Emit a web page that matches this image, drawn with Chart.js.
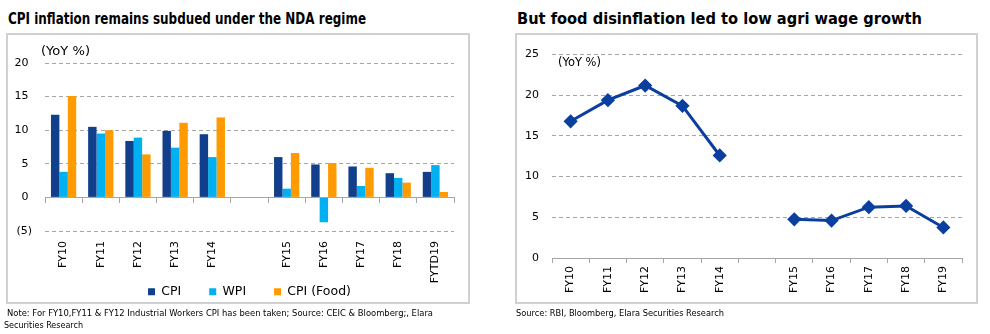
<!DOCTYPE html>
<html>
<head>
<meta charset="utf-8">
<script src="https://cdn.jsdelivr.net/npm/chart.js@4.4.0/dist/chart.umd.min.js"></script>
<style>
  html, body { margin:0; padding:0; background:#fff; }
  body { width:990px; height:334px; position:relative; overflow:hidden; font-family:"DejaVu Sans", sans-serif; color:#000; }
  .t { position:absolute; white-space:nowrap; line-height:1; transform-origin:0 0; }
  .title { font-weight:bold; font-size:16px; }
  .note { font-size:9.5px; }
  .unit { font-size:12px; }
  .box { position:absolute; border:2px solid #d0d0d0; box-sizing:border-box; }
  canvas { position:absolute; }
</style>
</head>
<body>
<div class="t title" data-w="358" style="left:8px;top:10.5px">CPI inflation remains subdued under the NDA regime</div>
<div class="t title" data-w="405" style="left:517px;top:10.5px">But food disinflation led to low agri wage growth</div>

<div class="box" style="left:6px;top:33px;width:464px;height:271px"></div>
<div class="box" style="left:515px;top:33px;width:463px;height:271px"></div>

<div style="position:absolute;left:8px;top:35px;width:460px;height:275px"><canvas id="cpiChart"></canvas></div>
<div style="position:absolute;left:517px;top:35px;width:458px;height:267px"><canvas id="wageChart"></canvas></div>

<div class="t unit" data-w="49" style="left:41px;top:45px">(YoY %)</div>
<div class="t unit" data-w="43" style="left:558px;top:56px">(YoY %)</div>

<div class="t note" data-w="426" style="left:7px;top:308px">Note: For FY10,FY11 &amp; FY12 Industrial Workers CPI has been taken; Source: CEIC &amp; Bloomberg;, Elara</div>
<div class="t note" data-w="79" style="left:4px;top:320px">Securities Research</div>
<div class="t note" data-w="208" style="left:516px;top:308px">Source: RBI, Bloomberg, Elara Securities Research</div>

<script>
// left chart data
const cpiCats = ['FY10','FY11','FY12','FY13','FY14','','FY15','FY16','FY17','FY18','FYTD19'];
const cpi     = [12.3, 10.5, 8.4, 9.9, 9.4, null, 6.0, 4.9, 4.6, 3.6, 3.8];
const wpi     = [3.8, 9.5, 8.9, 7.4, 6.0, null, 1.3, -3.7, 1.7, 2.9, 4.8];
const cpiFood = [15.1, 10.0, 6.4, 11.1, 11.9, null, 6.6, 5.1, 4.4, 2.2, 0.8];

// right chart data
const wageCats = ['FY10','FY11','FY12','FY13','FY14','','FY15','FY16','FY17','FY18','FY19'];
const agriWage = [16.8, 19.4, 21.2, 18.7, 12.6, null, 4.75, 4.6, 6.25, 6.4, 3.75];

const FONT = '"DejaVu Sans", sans-serif';
const gridGrey = '#a6a6a6';
const dashFor = c => (c.tick && c.tick.value === 0) ? [] : [4, 3];

function fixWidth(w){ return s => { s.width = w; }; }
function fixHeight(h){ return s => { s.height = h; }; }

new Chart(document.getElementById('cpiChart'), {
  type: 'bar',
  data: {
    labels: cpiCats,
    datasets: [
      { label:'CPI',        data:cpi,     backgroundColor:'#123f8c', borderWidth:0 },
      { label:'WPI',        data:wpi,     backgroundColor:'#00b0f0', borderWidth:0 },
      { label:'CPI (Food)', data:cpiFood, backgroundColor:'#ff9a00', borderWidth:0 }
    ]
  },
  options: {
    responsive:true, maintainAspectRatio:false, animation:false,
    layout:{ padding:{ top:28, left:0, right:14, bottom:2 } },
    datasets:{ bar:{ categoryPercentage:0.68, barPercentage:1.0 } },
    scales: {
      // category labels hang below the (5) line, like Excel's "low" axis labels
      x: {
        position:{ y:-5 },
        grid:{ display:false, drawTicks:false }, border:{ display:false },
        ticks:{ autoSkip:false, minRotation:90, maxRotation:90, padding:10, color:'#000', font:{ family:FONT, size:11 } }
      },
      // axis line with tick marks at zero
      x2: {
        type:'category', axis:'x', labels:cpiCats, offset:true, position:{ y:0 },
        grid:{ offset:true, drawOnChartArea:false, drawTicks:true, tickLength:5, color:gridGrey },
        border:{ display:true, color:gridGrey },
        ticks:{ display:false }
      },
      // keeps room for the labels above the legend
      xs: {
        type:'category', axis:'x', labels:cpiCats, position:'bottom',
        grid:{ display:false, drawTicks:false }, border:{ display:false },
        ticks:{ display:false },
        afterFit: fixHeight(26.5)
      },
      y: {
        min:-5, max:20,
        grid:{ color:gridGrey, drawTicks:false },
        border:{ display:false, dash:dashFor },
        ticks:{ stepSize:5, padding:13, color:'#000', font:{ family:FONT, size:11 },
          callback: v => v < 0 ? '(' + (-v) + ')' : v + ' ' },
        afterFit: fixWidth(37)
      }
    },
    plugins: {
      legend:{ position:'bottom', fullSize:false,
        labels:{ boxWidth:7, boxHeight:7, padding:28, color:'#000', font:{ family:FONT, size:12.5 } } },
      tooltip:{ enabled:false }
    }
  }
});

new Chart(document.getElementById('wageChart'), {
  type: 'line',
  data: {
    labels: wageCats,
    datasets: [
      { label:'Agri wage growth', data:agriWage, borderColor:'#0b3f9f', backgroundColor:'#0b3f9f',
        borderWidth:3, pointStyle:'rectRot', pointRadius:5, spanGaps:false, tension:0 }
    ]
  },
  options: {
    responsive:true, maintainAspectRatio:false, animation:false,
    layout:{ padding:{ top:14, left:0, right:13, bottom:0 } },
    scales: {
      x: {
        offset:true,
        grid:{ offset:true, drawOnChartArea:false, drawTicks:true, tickLength:5, color:gridGrey },
        border:{ display:true, color:gridGrey },
        ticks:{ autoSkip:false, minRotation:90, maxRotation:90, padding:3, color:'#000', font:{ family:FONT, size:11 } },
        afterFit: fixHeight(44)
      },
      y: {
        min:0, max:25,
        grid:{ color:gridGrey, drawTicks:false },
        border:{ display:false, dash:dashFor },
        ticks:{ stepSize:5, padding:13, color:'#000', font:{ family:FONT, size:11 } },
        afterFit: fixWidth(35)
      }
    },
    plugins: { legend:{ display:false }, tooltip:{ enabled:false } }
  }
});

// squeeze the html texts to the widths
function fitTexts(){
  document.querySelectorAll('[data-w]').forEach(el => {
    el.style.transform = 'none';
    const w = el.getBoundingClientRect().width;
    if (w > 0) el.style.transform = 'scaleX(' + (+el.dataset.w / w) + ')';
  });
}
fitTexts();
if (document.fonts && document.fonts.ready) document.fonts.ready.then(fitTexts);
</script>
</body>
</html>
